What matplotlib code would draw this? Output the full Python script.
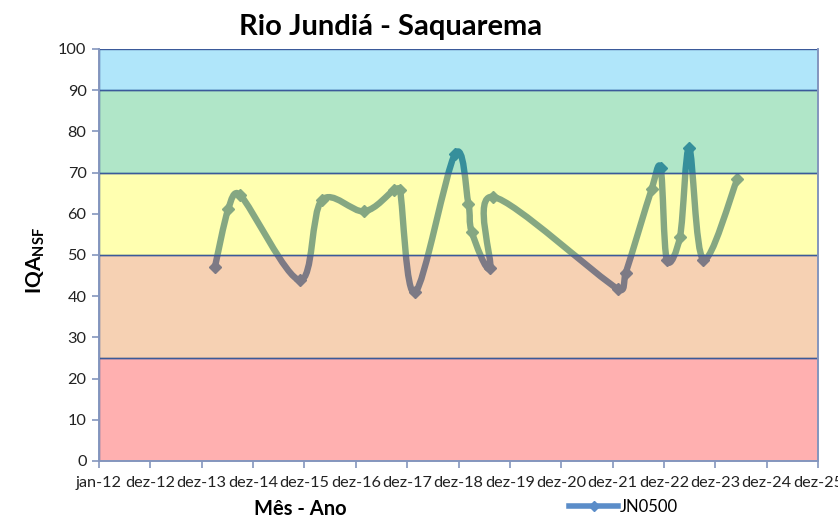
import datetime as dt

import matplotlib

matplotlib.use("Agg")
import matplotlib.dates as mdates
import matplotlib.pyplot as plt
import numpy as np
from matplotlib.lines import Line2D
from matplotlib.patches import PathPatch, Rectangle
from matplotlib.path import Path
from matplotlib.ticker import FixedLocator, FuncFormatter

FONT = ["Lato", "DejaVu Sans"]

# sample dates and IQA values
SAMPLE_DATES = [
    "2014-04-04", "2014-07-08", "2014-09-29", "2015-11-29", "2016-05-02",
    "2017-02-28", "2017-09-28", "2017-11-09", "2018-02-24", "2018-12-05",
    "2019-03-10", "2019-04-03", "2019-08-11", "2019-09-03", "2022-02-08",
    "2022-04-01", "2022-10-03", "2022-12-06", "2023-01-18", "2023-04-22",
    "2023-06-27", "2023-10-05", "2024-06-02",
]
IQA_VALUES = [
    47.1, 61.2, 64.6, 43.9, 63.3,
    60.6, 65.8, 65.8, 40.9, 74.5,
    62.5, 55.6, 46.8, 64.1, 41.7,
    45.6, 66.0, 71.0, 48.9, 54.4,
    75.9, 48.9, 68.4,
]
SERIES_NAME = "JN0500"

# quality classes (lower, upper, colour)
BAND_EDGES = [0, 25, 50, 70, 90, 100]
BAND_COLORS = ["#FF0000", "#E46C0A", "#FFFF00", "#00B050", "#00B0F0"]

MONTHS_PT = ["jan", "fev", "mar", "abr", "mai", "jun",
             "jul", "ago", "set", "out", "nov", "dez"]

AXIS_START = dt.date(2012, 1, 1)
TICK_STEP_DAYS = 365
N_TICKS = 15

LINE_BLUE = "#4F81BD"
SPINE_COLOR = "#8496BE"
BORDER_COLOR = "#3B5A9A"


def cap(arm, limit):
    length = np.hypot(*arm)
    if length > limit and length > 0:
        return arm * (limit / length)
    return arm


def smooth_path(ax, xs, ys):
    # Excel-style smoothed line: Bezier arms of (next - prev)/6,
    # kept no longer than half of the segment, built in screen space
    pts = ax.transData.transform(np.column_stack([xs, ys]))
    n = len(pts)
    verts = [pts[0]]
    codes = [Path.MOVETO]
    for i in range(n - 1):
        p0 = pts[i - 1] if i > 0 else pts[i]
        p1 = pts[i]
        p2 = pts[i + 1]
        p3 = pts[i + 2] if i + 2 < n else pts[i + 1]
        half = np.hypot(*(p2 - p1)) / 2
        arm1 = cap((p2 - p0) / 6, half)
        arm2 = cap((p3 - p1) / 6, half)
        verts += [p1 + arm1, p2 - arm2, p2]
        codes += [Path.CURVE4] * 3
    return Path(ax.transData.inverted().transform(np.array(verts)), codes)


def tick_label(value, _pos):
    d = mdates.num2date(value)
    return f"{MONTHS_PT[d.month - 1]}-{d.year % 100:02d}"


plt.rcParams["mathtext.fontset"] = "custom"
plt.rcParams["mathtext.bf"] = "Lato:bold"
plt.rcParams["mathtext.rm"] = "Lato"

fig = plt.figure(figsize=(8.38, 5.19), dpi=100)
ax = fig.add_axes([99 / 838, 58 / 519, 719 / 838, 412 / 519])

x0 = mdates.date2num(AXIS_START)
ticks = [x0 + k * TICK_STEP_DAYS for k in range(N_TICKS)]
ax.set_xlim(ticks[0], ticks[-1])
ax.set_ylim(0, 100)

xs = mdates.date2num([dt.date.fromisoformat(s) for s in SAMPLE_DATES])
ys = np.array(IQA_VALUES)

path = smooth_path(ax, xs, ys)
ax.add_patch(PathPatch(path, fill=False, edgecolor=LINE_BLUE, linewidth=4.6,
                       capstyle="round", joinstyle="round", zorder=1))
ax.plot(xs, ys, linestyle="none", marker="D", markersize=6.5,
        color=LINE_BLUE, zorder=1)

for lo, hi, col in zip(BAND_EDGES[:-1], BAND_EDGES[1:], BAND_COLORS):
    face = matplotlib.colors.to_rgba(col, 0.31)
    ax.add_patch(Rectangle((ticks[0], lo), ticks[-1] - ticks[0], hi - lo,
                           facecolor=face, edgecolor=BORDER_COLOR,
                           linewidth=1.0, zorder=2))

ax.xaxis.set_major_locator(FixedLocator(ticks))
ax.xaxis.set_major_formatter(FuncFormatter(tick_label))
ax.set_yticks(range(0, 101, 10))

for side in ["left", "bottom", "right"]:
    ax.spines[side].set_color(SPINE_COLOR)
    ax.spines[side].set_linewidth(1.4)
    ax.spines[side].set_zorder(3)
ax.spines["top"].set_visible(False)
ax.tick_params(axis="both", direction="out", length=5, width=1.2,
               color=SPINE_COLOR, labelsize=11.7, labelcolor="#222222")
ax.tick_params(axis="x", pad=6)
ax.tick_params(axis="y", pad=4)
for lbl in ax.get_xticklabels() + ax.get_yticklabels():
    lbl.set_family(FONT)

fig.text(391 / 838, 1 - 27 / 519, "Rio Jundiá - Saquarema", ha="center",
         va="center", fontsize=21, fontweight="bold", family=FONT)
fig.text(300 / 838, 1 - 509 / 519, "Mês - Ano", ha="center", va="center",
         fontsize=14.5, fontweight="bold", family=FONT)

fig.text(36 / 838, 1 - 261 / 519, r"$\mathbf{IQA}_{\mathbf{NSF}}$",
         rotation=90, ha="center", va="center", fontsize=15)

handle = Line2D([0], [0], color="#5B8DC9", linewidth=4, marker="D",
                markersize=5, label=SERIES_NAME)
fig.legend(handles=[handle], loc="center left",
           bbox_to_anchor=(561 / 838, 1 - 507 / 519), frameon=False,
           handlelength=2.9, handletextpad=0.15, borderpad=0,
           prop={"family": FONT, "size": 12})

fig.savefig("out.png", dpi=100)
